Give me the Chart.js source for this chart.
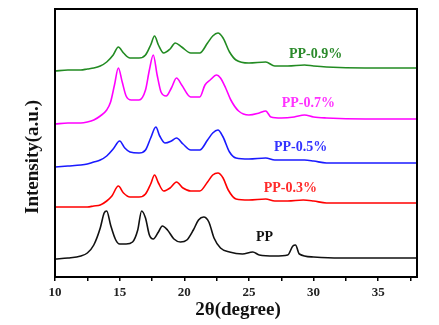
<!DOCTYPE html>
<html>
<head>
<meta charset="utf-8">
<script src="https://cdn.jsdelivr.net/npm/chart.js@4.4.0/dist/chart.umd.min.js"></script>
<style>
  body { margin: 0; background: #fff; }
  #wrap { width: 439px; height: 325px; }
</style>
</head>
<body>
<div id="wrap"><canvas id="xrd"></canvas></div>
<script>
// valores (2θ e intensidade em unidades arbitrárias, curvas deslocadas)
const ppX = [10,11,12,12.5,13,13.5,13.8,14.0,14.3,14.7,15.0,15.5,16.0,16.4,16.7,17.0,17.3,17.6,18.0,18.3,18.7,19.2,19.7,20.2,20.7,21.1,21.5,21.9,22.3,22.8,23.5,24.5,25.3,25.8,27,28.0,28.4,28.6,28.9,30,32,35,38];
const ppY = [18,19,21,24,32,49,64,66,52,37,33,33,35,47,66,59,42,38,45,51,47,38,35,37,47,57,60,55,39,29,25,23,25,22,21,22,31,32,23,20,19,19,19];

const pp03X = [10,11,12,12.5,13,13.5,14,14.4,14.9,15.3,15.8,16.5,17.0,17.4,17.7,18.0,18.4,18.9,19.4,19.9,20.5,21.2,21.8,22.2,22.6,23.0,23.4,24.0,25,26.3,27,28,29.2,30,31,34,38];
const pp03Y = [70,70,70,70,71,72,76,81,91,84,80,80,83,93,102,94,86,89,95,89,86,86,95,102,104,99,87,78,77,78,76,76,77,76,74,74,74];

const pp05X = [10,11,12,12.5,13,13.5,14,14.5,15.0,15.4,15.8,16.5,17.0,17.4,17.8,18.1,18.5,19.0,19.4,19.9,20.5,21.2,21.8,22.2,22.6,23.0,23.5,24.0,25,26.3,27,28,29.3,30,31,34,38];
const pp05Y = [110,111,112,113,115,117,121,128,136,129,125,124,127,139,150,141,134,136,139,133,127,127,137,144,147,140,125,119,118,119,117,117,117,116,114,114,114];

const pp07X = [10,11,12,12.5,13,13.5,14,14.3,14.6,14.9,15.2,15.5,15.9,16.5,17.0,17.3,17.6,17.9,18.2,18.6,19.0,19.4,19.8,20.5,21.2,21.6,22.0,22.5,22.8,23.2,23.6,24.2,25,25.8,26.3,26.7,27.5,28.5,29.3,30,31,34,38];
const pp07Y = [153,154,154,155,157,161,167,175,192,209,195,181,177,177,187,207,222,202,185,181,189,199,192,180,180,192,197,202,199,189,177,166,162,164,166,160,159,160,162,160,159,158,158];

const pp09X = [10,11,12,12.5,13,13.5,14,14.5,14.9,15.3,15.8,16.5,17.0,17.4,17.7,18.0,18.4,18.9,19.3,19.8,20.5,21.2,21.8,22.2,22.6,23.0,23.5,24.0,25,26.3,27,28,29.3,30,31,34,38];
const pp09Y = [206,207,207,208,209,211,215,222,230,224,219,219,222,232,241,232,224,228,234,230,224,224,234,241,244,239,225,217,214,215,211,211,212,211,210,209,209];

const xTicks = [10, 15, 20, 25, 30, 35];

// rótulos das curvas (posição em coordenadas dos dados)
const rotulos = [
  { texto: 'PP-0.9%', x: 30.15, y: 223, cor: '#2a8a2a' },
  { texto: 'PP-0.7%', x: 29.6, y: 174, cor: '#ff33ff' },
  { texto: 'PP-0.5%', x: 29.0, y: 130, cor: '#3333ff' },
  { texto: 'PP-0.3%', x: 28.2, y: 89, cor: '#ff2a2a' },
  { texto: 'PP', x: 26.2, y: 40, cor: '#111' }
];

function pontos(xs, ys) {
  return xs.map((x, i) => ({ x, y: ys[i] }));
}

function serie(xs, ys, cor) {
  return {
    data: pontos(xs, ys),
    borderColor: cor,
    borderWidth: 1.6,
    pointRadius: 0,
    cubicInterpolationMode: 'monotone',
    fill: false
  };
}

const SERIF = '"Liberation Serif", "Times New Roman", serif';

const textos = {
  id: 'textos',
  afterDraw(chart) {
    const { ctx, chartArea, scales } = chart;
    ctx.save();
    // moldura
    ctx.strokeStyle = '#000';
    ctx.lineWidth = 2;
    ctx.strokeRect(chartArea.left, chartArea.top, chartArea.right - chartArea.left, chartArea.bottom - chartArea.top);

    // rótulos das curvas
    ctx.font = 'bold 14px ' + SERIF;
    ctx.textAlign = 'center';
    ctx.textBaseline = 'middle';
    rotulos.forEach(r => {
      ctx.fillStyle = r.cor;
      ctx.fillText(r.texto, scales.x.getPixelForValue(r.x), scales.y.getPixelForValue(r.y));
    });

    // títulos dos eixos
    ctx.fillStyle = '#111';
    ctx.font = 'bold 19px ' + SERIF;
    ctx.fillText('2θ(degree)', 238, 310);
    ctx.translate(33, 157);
    ctx.rotate(-Math.PI / 2);
    ctx.fillText('Intensity(a.u.)', 0, 0);
    ctx.restore();
  }
};

new Chart(document.getElementById('xrd'), {
  type: 'line',
  data: {
    datasets: [
      serie(ppX, ppY, '#111111'),
      serie(pp03X, pp03Y, '#ff0000'),
      serie(pp05X, pp05Y, '#1a1aff'),
      serie(pp07X, pp07Y, '#ff00ff'),
      serie(pp09X, pp09Y, '#228b22')
    ]
  },
  options: {
    responsive: true,
    maintainAspectRatio: false,
    animation: false,
    layout: { padding: { top: 9, right: 22, left: 0, bottom: 0 } },
    plugins: { legend: { display: false }, tooltip: { enabled: false } },
    scales: {
      x: {
        type: 'linear',
        min: 10,
        max: 38,
        afterFit: s => { s.height = 48; },
        border: { display: true, color: '#000', width: 2 },
        grid: { drawOnChartArea: false, tickLength: 4, color: '#000', lineWidth: 1.5 },
        ticks: {
          stepSize: 2.5,
          includeBounds: false,
          autoSkip: false,
          maxRotation: 0,
          padding: 4,
          color: '#222',
          font: { family: SERIF, size: 13, weight: 'bold' },
          callback: v => xTicks.includes(v) ? String(v) : ''
        }
      },
      y: {
        min: 0,
        max: 268,
        afterFit: s => { s.width = 55; },
        border: { display: true, color: '#000', width: 2 },
        grid: { display: false },
        ticks: { display: false }
      }
    }
  },
  plugins: [textos]
});
</script>
</body>
</html>
